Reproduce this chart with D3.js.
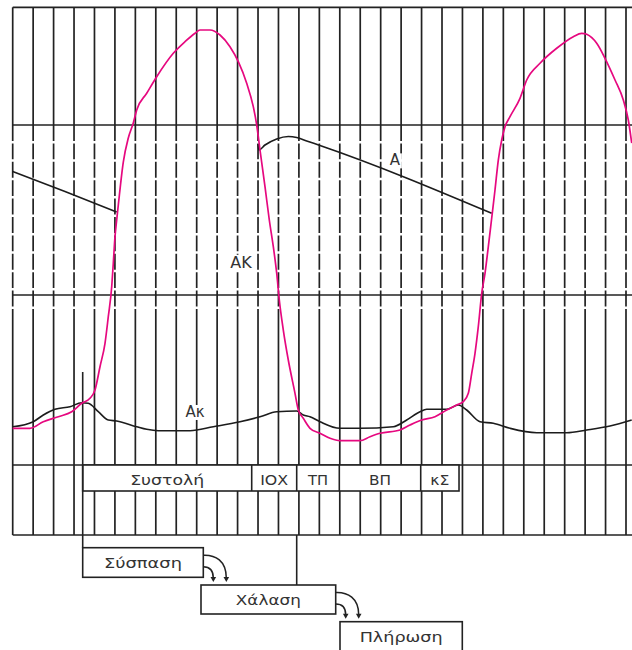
<!DOCTYPE html>
<html>
<head>
<meta charset="utf-8">
<script src="https://cdn.jsdelivr.net/npm/d3@7"></script>
<style>
  html, body { margin: 0; padding: 0; background: #fff; }
  svg { display: block; }
</style>
</head>
<body>
<svg id="chart" width="632" height="650"></svg>
<script>
// Time is measured in grid steps, pressure in chart units (grid rows at 0, 40, 80).

// Left ventricular pressure (ΑΚ)
const ventricle = [
  [0.000, 8.64], [0.846, 8.64], [1.497, 10.19], [2.231, 11.36], [2.886, 12.54],
  [3.375, 14.52], [3.781, 15.69], [4.026, 17.65], [4.270, 23.13], [4.515, 28.64],
  [4.676, 34.89], [4.843, 41.95], [4.921, 47.46], [5.004, 53.72], [5.087, 57.65],
  [5.166, 61.18], [5.410, 71.29], [5.655, 76.94], [5.899, 80.47], [6.066, 83.53],
  [6.555, 87.46], [7.044, 91.36], [7.856, 96.87], [8.428, 99.60], [8.918, 101.58],
  [9.162, 102.35], [9.651, 102.35], [10.140, 101.18], [10.629, 98.42], [11.036, 94.89],
  [11.446, 89.81], [11.769, 84.31], [11.936, 80.00], [12.097, 74.12], [12.341, 65.48],
  [12.552, 57.65], [12.748, 51.36], [12.914, 45.11], [13.041, 38.82], [13.237, 31.76],
  [13.481, 24.71], [13.809, 16.87], [13.971, 12.94], [14.215, 10.99], [14.543, 8.64],
  [15.032, 7.46], [15.521, 6.28], [16.010, 5.72], [16.989, 5.72], [17.478, 6.66],
  [17.967, 7.46], [18.945, 8.24], [19.434, 9.41], [20.007, 10.59], [20.657, 11.36],
  [21.230, 12.94], [21.719, 14.12], [22.042, 14.89], [22.286, 16.87], [22.453, 21.58],
  [22.614, 26.28], [22.775, 32.54], [22.942, 40.40], [23.103, 45.11], [23.265, 51.36],
  [23.431, 58.12], [23.592, 64.71], [23.754, 71.76], [23.920, 76.47], [24.081, 79.60],
  [24.326, 81.95], [24.815, 86.28], [25.143, 90.59], [25.793, 94.52], [26.610, 98.05],
  [27.422, 100.78], [27.833, 101.58], [28.078, 101.34], [28.567, 99.22], [28.973, 95.69],
  [29.463, 90.59], [29.869, 85.88], [30.113, 81.18], [30.279, 75.76]
];

// Left atrial pressure (Ακ)
const atrium = [
  [0.000, 9.01], [1.008, 10.19], [1.497, 11.76], [2.069, 13.11], [2.803, 13.72],
  [3.375, 14.66], [3.698, 14.52], [4.187, 12.54], [4.676, 10.59], [5.087, 10.35],
  [6.066, 9.01], [6.555, 8.40], [7.122, 8.07], [8.673, 8.07], [9.813, 9.01],
  [11.119, 10.19], [12.097, 11.36], [12.914, 12.54], [13.892, 12.71], [14.215, 11.76],
  [14.543, 11.36], [15.032, 10.19], [16.010, 8.64], [16.989, 8.64], [18.618, 9.01],
  [19.273, 10.59], [19.924, 12.54], [20.251, 13.11], [21.230, 13.11], [21.797, 14.12],
  [22.208, 12.94], [22.859, 10.19], [23.509, 9.81], [24.326, 8.64], [25.632, 7.60],
  [27.100, 7.60], [28.078, 8.24], [29.218, 9.18], [30.279, 10.59]
];

// Aortic pressure (Α): diastolic run-off, then notch and run-off after valve closure
const aortaRunoff = [
  [0.000, 69.06], [2.558, 64.35], [5.087, 59.53]
];
const aortaAfterClosure = [
  [12.000, 75.53], [12.040, 74.12], [12.341, 75.29], [12.914, 76.71], [13.481, 77.29],
  [13.892, 77.06], [14.381, 76.24], [15.032, 75.18], [23.431, 59.22]
];

// Phases of the cycle (start / end in grid steps)
const phases = [
  { label: "Συστολή", start: 3.424, end: 11.691 },
  { label: "ΙΟΧ", start: 11.691, end: 13.892 },
  { label: "ΤΠ", start: 13.892, end: 15.976 },
  { label: "ΒΠ", start: 15.976, end: 19.958 },
  { label: "κΣ", start: 19.958, end: 21.832 }
];

// Ventricular stages shown below the time axis
const stages = ["Σύσπαση", "Χάλαση", "Πλήρωση"];

// Curve labels
const curveLabels = [
  { text: "Α", t: 18.70, p: 70.5, size: 15 },
  { text: "ΑΚ", t: 11.17, p: 46.4, size: 16 },
  { text: "Ακ", t: 8.92, p: 11.3, size: 15 }
];

const gridSteps = d3.range(0, 31);
const pressureRows = [0, 40, 80];

// ---------------------------------------------------------------
const W = 632, H = 650;
const frameTop = 7.3, frameBottom = 535, rowBottom = 491, dashEnd = 309;
const ink = "#222", magenta = "#e6087f", textInk = "#333";
const font = "'DejaVu Sans', 'Noto Sans', sans-serif";

const x = d3.scaleLinear().domain([0, 30]).range([12.7, 626]);
const y = d3.scaleLinear().domain([0, 80]).range([465, 125]);

const svg = d3.select("#chart");
svg.append("rect").attr("width", W).attr("height", H).attr("fill", "#fff");

// Vertical grid: solid above the top pressure row, dashed band, solid below
const grid = svg.append("g").attr("stroke", ink).attr("stroke-width", 1.7);
gridSteps.forEach(k => {
  const gx = x(k);
  grid.append("line").attr("x1", gx).attr("x2", gx).attr("y1", frameTop).attr("y2", y(80));
  grid.append("line").attr("x1", gx).attr("x2", gx).attr("y1", y(80)).attr("y2", dashEnd)
    .attr("stroke-dasharray", "15.9,2.5");
  grid.append("line").attr("x1", gx).attr("x2", gx).attr("y1", dashEnd).attr("y2", frameBottom);
});

// Horizontal rules
[frameTop, ...pressureRows.map(y), frameBottom].forEach(hy => {
  grid.append("line").attr("x1", x(0)).attr("x2", W).attr("y1", hy).attr("y2", hy);
});

// Phase row
const phaseRow = svg.append("g");
phaseRow.append("rect")
  .attr("x", x(phases[0].start)).attr("y", y(0))
  .attr("width", x(phases[phases.length - 1].end) - x(phases[0].start))
  .attr("height", rowBottom - y(0))
  .attr("fill", "#fff").attr("stroke", ink).attr("stroke-width", 1.6);
phases.slice(1).forEach(ph => {
  phaseRow.append("line").attr("x1", x(ph.start)).attr("x2", x(ph.start))
    .attr("y1", y(0)).attr("y2", rowBottom).attr("stroke", ink).attr("stroke-width", 1.6);
});
const phaseWidths = { "Συστολή": 74, "ΙΟΧ": 28, "ΤΠ": 20, "ΒΠ": 22, "κΣ": 19 };
phases.forEach(ph => {
  phaseRow.append("text")
    .attr("x", (x(ph.start) + x(ph.end)) / 2).attr("y", 485)
    .attr("text-anchor", "middle")
    .attr("textLength", phaseWidths[ph.label]).attr("lengthAdjust", "spacingAndGlyphs")
    .attr("font-family", font).attr("font-size", 14).attr("fill", textInk)
    .text(ph.label);
});

// Stage boxes and their connectors
const stageBoxes = [
  { x0: x(phases[0].start), x1: 203.3, y0: 547.7, y1: 577.3, w: 78 },
  { x0: 201, x1: 335.7, y0: 585, y1: 614, w: 65 },
  { x0: 340, x1: 462.3, y0: 621.7, y1: 653, w: 83 }
];
const lines = svg.append("g").attr("stroke", ink).attr("stroke-width", 1.6).attr("fill", "none");
// Start of contraction: from the atrial peak down to its box
lines.append("line").attr("x1", x(phases[0].start)).attr("x2", x(phases[0].start))
  .attr("y1", 372).attr("y2", stageBoxes[0].y0);
// Start of relaxation: from the axis down to its box
lines.append("line").attr("x1", x(phases[2].start)).attr("x2", x(phases[2].start))
  .attr("y1", frameBottom).attr("y2", stageBoxes[1].y0);

stages.forEach((s, i) => {
  const b = stageBoxes[i];
  svg.append("rect").attr("x", b.x0).attr("y", b.y0)
    .attr("width", b.x1 - b.x0).attr("height", b.y1 - b.y0)
    .attr("fill", "#fff").attr("stroke", ink).attr("stroke-width", 1.6);
  svg.append("text").attr("x", (b.x0 + b.x1) / 2).attr("y", (i === 2 ? 641.5 : (b.y0 + b.y1) / 2 + 5.5))
    .attr("text-anchor", "middle")
    .attr("textLength", b.w).attr("lengthAdjust", "spacingAndGlyphs")
    .attr("font-family", font).attr("font-size", 14.5).attr("fill", textInk)
    .text(s);
});

// Curved hand-over arrows between consecutive stages
[0, 1].forEach(i => {
  const b = stageBoxes[i];
  const R = b.x1, T = b.y0;
  const endY = stageBoxes[i + 1].y0 - 7;
  const arcs = svg.append("g").attr("stroke", ink).attr("stroke-width", 1.5).attr("fill", "none");
  arcs.append("path")
    .attr("d", `M${R},${T + 7.5} C${R + 12},${T + 7} ${R + 23},${T + 13} ${R + 23},${endY}`);
  arcs.append("path")
    .attr("d", `M${R},${T + 19} C${R + 6},${T + 19} ${R + 10},${T + 22} ${R + 10},${endY}`);
  [R + 23, R + 10].forEach(ax => {
    svg.append("path")
      .attr("d", `M${ax - 2.8},${endY - 1} L${ax + 2.8},${endY - 1} L${ax},${endY + 4} Z`)
      .attr("fill", ink);
  });
});

// Pressure curves
const line = d3.line().x(d => x(d[0])).y(d => y(d[1])).curve(d3.curveMonotoneX);
const curves = svg.append("g").attr("fill", "none").attr("stroke-linejoin", "round");
curves.append("path").datum(aortaRunoff).attr("d", line).attr("stroke", "#1c1c1c").attr("stroke-width", 1.6);
curves.append("path").datum(aortaAfterClosure).attr("d", line).attr("stroke", "#1c1c1c").attr("stroke-width", 1.6);
curves.append("path").datum(atrium).attr("d", line).attr("stroke", "#1c1c1c").attr("stroke-width", 1.6);
curves.append("path").datum(ventricle).attr("d", line).attr("stroke", magenta).attr("stroke-width", 1.7);

// Curve labels on a white patch
curveLabels.forEach(l => {
  const g = svg.append("g");
  const t = g.append("text").attr("x", x(l.t)).attr("y", y(l.p))
    .attr("text-anchor", "middle")
    .attr("font-family", font).attr("font-size", l.size).attr("fill", textInk)
    .text(l.text);
  const bb = t.node().getBBox();
  g.insert("rect", "text").attr("x", bb.x - 1).attr("y", bb.y + 2)
    .attr("width", bb.width + 2).attr("height", bb.height - 3).attr("fill", "#fff");
});
</script>
</body>
</html>
